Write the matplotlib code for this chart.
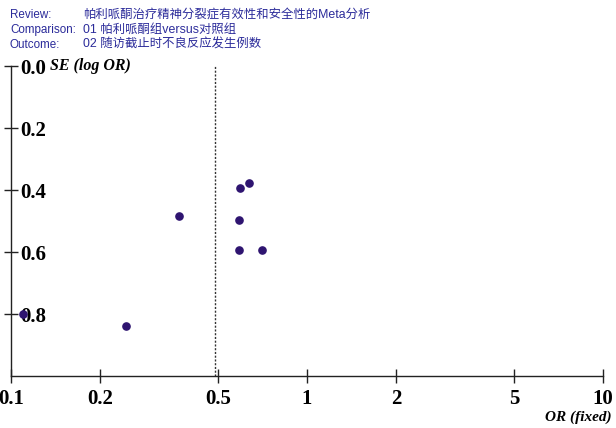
import matplotlib
matplotlib.use("Agg")
import matplotlib.pyplot as plt
import matplotlib.ticker as mticker
import matplotlib.transforms as mtrans

# 漏斗图数据 (OR, SE(log OR))
odds_ratio = [0.11, 0.245, 0.37, 0.594, 0.637, 0.589, 0.589, 0.705]
se_log_or = [0.80, 0.838, 0.485, 0.395, 0.379, 0.498, 0.592, 0.592]
pooled_or = 0.49

x_ticks = [0.1, 0.2, 0.5, 1, 2, 5, 10]
x_tick_labels = ["0.1", "0.2", "0.5", "1", "2", "5", "10"]
y_ticks = [0.0, 0.2, 0.4, 0.6, 0.8]
y_tick_labels = ["0.0", "0.2", "0.4", "0.6", "0.8"]

header_keys = ["Review:", "Comparison:", "Outcome:"]
header_vals = ["帕利哌酮治疗精神分裂症有效性和安全性的Meta分析",
               "01 帕利哌酮组versus对照组",
               "02 随访截止时不良反应发生例数"]

W, H = 616, 428
fig = plt.figure(figsize=(W / 100, H / 100), dpi=100)
ax = fig.add_axes([11 / W, (H - 376) / H, 592 / W, 310 / H])

ax.set_xscale("log")
ax.set_xlim(0.1, 10)
ax.set_ylim(1.0, 0.0)

ax.scatter(odds_ratio, se_log_or, s=27, color="#2e1470", zorder=3)
ax.axvline(pooled_or, color="#333333", linestyle=(0, (1.5, 1.2)), linewidth=1.0, zorder=1)

for s in ["top", "right"]:
    ax.spines[s].set_visible(False)
for s in ["left", "bottom"]:
    ax.spines[s].set_linewidth(1.0)
    ax.spines[s].set_color("#222222")

serif = ["Liberation Serif", "DejaVu Serif"]

ax.xaxis.set_major_locator(mticker.FixedLocator(x_ticks))
ax.xaxis.set_minor_locator(mticker.NullLocator())
ax.set_xticklabels(x_tick_labels, fontsize=15, fontweight="bold", family=serif)
ax.tick_params(axis="x", direction="inout", length=10, width=1.0, pad=4, color="#222222")

ax.set_yticks(y_ticks)
ax.set_yticklabels(y_tick_labels, fontsize=15, fontweight="bold", family=serif)
ax.tick_params(axis="y", direction="inout", length=10, width=1.0, pad=-12, color="#222222")
for lab in ax.get_yticklabels():
    lab.set_horizontalalignment("left")

trans = mtrans.blended_transform_factory(ax.transAxes, ax.transData)
ax.text(0.066, 0.0, "SE (log OR)", transform=trans,
        fontsize=11.5, fontweight="bold", fontstyle="italic", family=serif,
        ha="left", va="center")
fig.text(612 / W, 1 - 417 / H, "OR (fixed)", fontsize=11, fontweight="bold",
         fontstyle="italic", family=serif, ha="right", va="center")

hdr_font = ["Liberation Sans", "Noto Sans CJK SC"]
for i, (k, v) in enumerate(zip(header_keys, header_vals)):
    y = 1 - (18 + 15 * i) / H
    fig.text(10 / W, y, k, fontsize=8.4, color="#2b2b9a", family=hdr_font, va="baseline")
    fig.text(83 / W, y, v, fontsize=8.9, color="#2b2b9a", family=hdr_font, va="baseline")

fig.savefig("out.png", dpi=100)
